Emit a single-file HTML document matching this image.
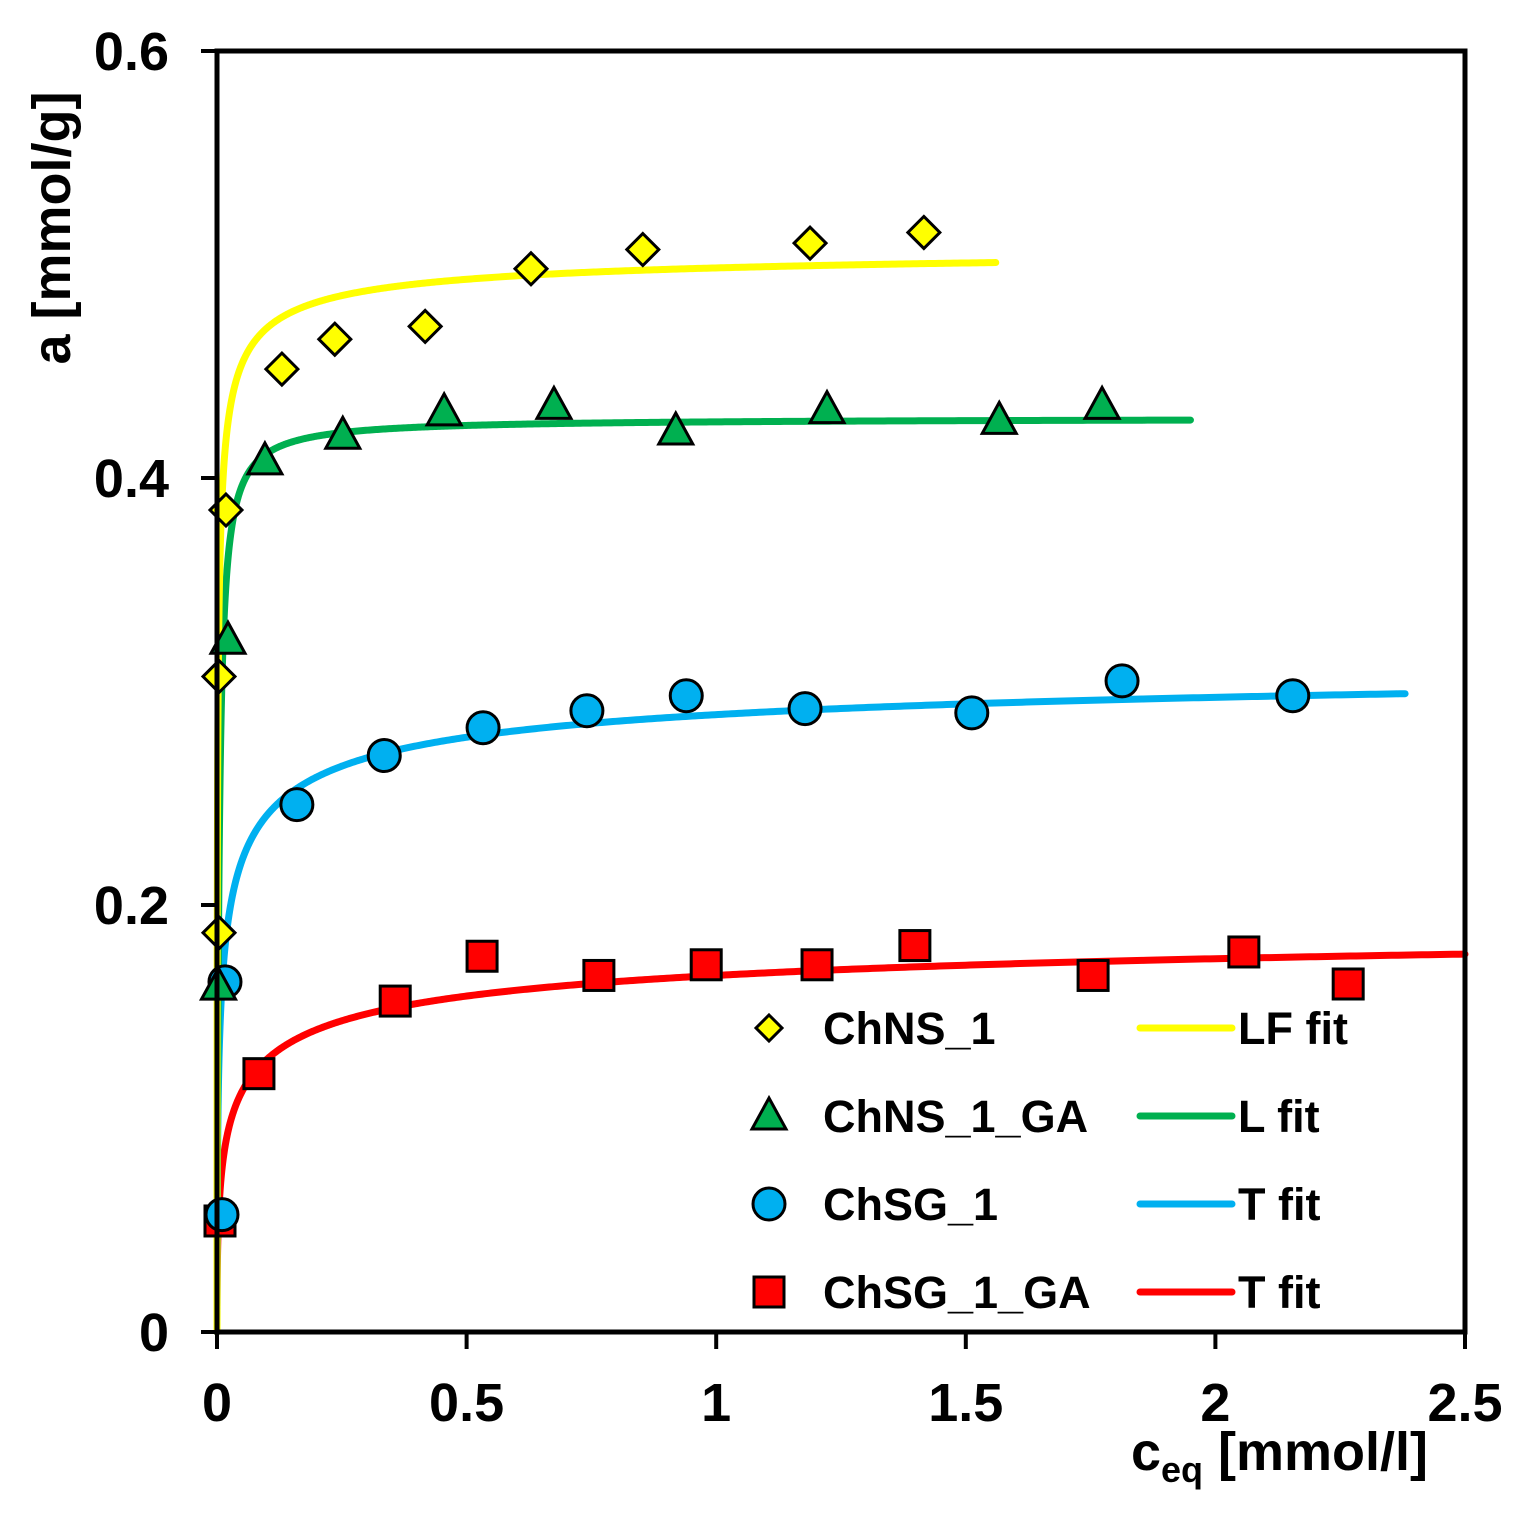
<!DOCTYPE html>
<html><head><meta charset="utf-8"><style>
html,body{margin:0;padding:0;background:#fff;}
svg{display:block;font-family:"Liberation Sans",Arial,sans-serif;font-weight:bold;}
</style></head><body>
<svg id="chart" width="1536" height="1515" viewBox="0 0 1536 1515">
<g id="plot"></g>
</svg>
<script>
const xTicks=[0,0.5,1,1.5,2,2.5];
const xTickLabels=["0","0.5","1","1.5","2","2.5"];
const yTicks=[0,0.2,0.4,0.6];
const yTickLabels=["0","0.2","0.4","0.6"];
const chnsX=[0.004,0.004,0.018,0.13,0.236,0.417,0.629,0.853,1.188,1.416];
const chnsY=[0.187,0.307,0.385,0.451,0.465,0.471,0.498,0.507,0.510,0.515];
const chnsgaX=[0.003,0.022,0.096,0.252,0.455,0.675,0.919,1.222,1.567,1.773];
const chnsgaY=[0.162,0.324,0.408,0.420,0.431,0.434,0.422,0.432,0.427,0.434];
const chsgX=[0.01,0.016,0.16,0.335,0.533,0.741,0.94,1.178,1.512,1.813,2.155];
const chsgY=[0.055,0.164,0.247,0.270,0.283,0.291,0.298,0.292,0.290,0.305,0.298];
const chsggaX=[0.006,0.084,0.357,0.531,0.765,0.98,1.202,1.398,1.755,2.057,2.266];
const chsggaY=[0.052,0.121,0.155,0.176,0.167,0.172,0.172,0.181,0.167,0.178,0.163];
// fit parameters [qm, K, n, cmax]
const lfFit=[0.51,824,0.56,1.56];
const lFit=[0.428,250,1,1.95];
const tFitBlue=[0.32,106,0.48,2.38];
const tFitRed=[0.2,34.8,0.457,2.5];

const X0=217,X1=1465,Y0=1332,Y1=51;
const sx=v=>X0+(v-0)/(2.5-0)*(X1-X0);
const sy=v=>Y0-(v-0)/(0.6-0)*(Y0-Y1);
const NS="http://www.w3.org/2000/svg";
const g=document.getElementById('plot');
function mk(t,a,p){const e=document.createElementNS(NS,t);for(const k in a)e.setAttribute(k,a[k]);(p||g).appendChild(e);return e;}

function sips(p,c){const t=Math.pow(p[1]*c,p[2]);return p[0]*t/(1+t);}
function drawFit(p,color,name){
  let d="";const N=600;
  for(let i=0;i<=N;i++){const c=p[3]*Math.pow(i/N,3);d+=(i?"L":"M")+sx(c).toFixed(2)+","+sy(sips(p,c)).toFixed(2);}
  const e=mk('path',{d:d,fill:'none',stroke:color,'stroke-width':7,'stroke-linecap':'round'});
  
  
}
drawFit(tFitRed,'#ff0000','t-fit-red-curve');
drawFit(tFitBlue,'#00b0f0','t-fit-blue-curve');
drawFit(lFit,'#00b050','l-fit-curve');
drawFit(lfFit,'#ffff00','lf-fit-curve');

function marker(type,x,y,fill,parent){
  let e;
  if(type==='d') e=mk('polygon',{points:`${x},${y-16} ${x+16},${y} ${x},${y+16} ${x-16},${y}`,fill:fill,stroke:'#000','stroke-width':3},parent);
  else if(type==='t') e=mk('polygon',{points:`${x},${y-18} ${x+17},${y+13} ${x-17},${y+13}`,fill:fill,stroke:'#000','stroke-width':3},parent);
  else if(type==='c') e=mk('circle',{cx:x,cy:y,r:16,fill:fill,stroke:'#000','stroke-width':3},parent);
  else e=mk('rect',{x:x-15,y:y-15,width:30,height:30,fill:fill,stroke:'#000','stroke-width':3},parent);
  return e;
}
function series(xs,ys,type,fill,name){
  for(let i=0;i<xs.length;i++){
    const e=marker(type,sx(xs[i]),sy(ys[i]),fill);
    
    
  }
}
series(chsggaX,chsggaY,'s','#ff0000','chsg-1-ga');
series(chsgX,chsgY,'c','#00b0f0','chsg-1');
series(chnsgaX,chnsgaY,'t','#00b050','chns-1-ga');
series(chnsX,chnsY,'d','#ffff00','chns-1');

const fr=mk('rect',{x:X0,y:Y1,width:X1-X0,height:Y0-Y1,fill:'none',stroke:'#000','stroke-width':5});



for(let i=0;i<xTicks.length;i++){
  const x=sx(xTicks[i]);
  mk('line',{x1:x,y1:Y0,x2:x,y2:Y0+17,stroke:'#000','stroke-width':4});
  const t=mk('text',{x:x,y:Y0+89,'text-anchor':'middle','font-size':54});
  t.textContent=xTickLabels[i];
  
  
}
for(let i=0;i<yTicks.length;i++){
  const y=sy(yTicks[i]);
  mk('line',{x1:X0-16,y1:y,x2:X0,y2:y,stroke:'#000','stroke-width':4});
  const t=mk('text',{x:169,y:y+19,'text-anchor':'end','font-size':54});
  t.textContent=yTickLabels[i];
  
  
}

const yt=mk('text',{x:0,y:0,'text-anchor':'middle','font-size':54,transform:'translate(70,228) rotate(-90)'});
yt.textContent='a [mmol/g]';


const xt=mk('text',{x:1428,y:1470,'text-anchor':'end','font-size':54});
xt.innerHTML='c<tspan font-size="36" dy="12">eq</tspan><tspan dy="-12"> [mmol/l]</tspan>';



const leg=mk('g',{});


const legNames=['ChNS_1','ChNS_1_GA','ChSG_1','ChSG_1_GA'];
const legTypes=['d','t','c','s'];
const legFills=['#ffff00','#00b050','#00b0f0','#ff0000'];
const fitNames=['LF fit','L fit','T fit','T fit'];
const fitColors=['#ffff00','#00b050','#00b0f0','#ff0000'];
for(let i=0;i<4;i++){
  const y=1028+i*88;
  const m=marker(legTypes[i],769,y,legFills[i],leg);
  if(legTypes[i]==='d'){m.setAttribute('points',`769,${y-13} 782,${y} 769,${y+13} 756,${y}`);}
  const t=mk('text',{x:823,y:y+16,'font-size':45},leg);
  t.textContent=legNames[i];
  
  
  mk('line',{x1:1140,y1:y,x2:1232,y2:y,stroke:fitColors[i],'stroke-width':7,'stroke-linecap':'round'},leg);
  const f=mk('text',{x:1238,y:y+16,'font-size':45},leg);
  f.textContent=fitNames[i];
  
  
}
</script>
</body></html>
